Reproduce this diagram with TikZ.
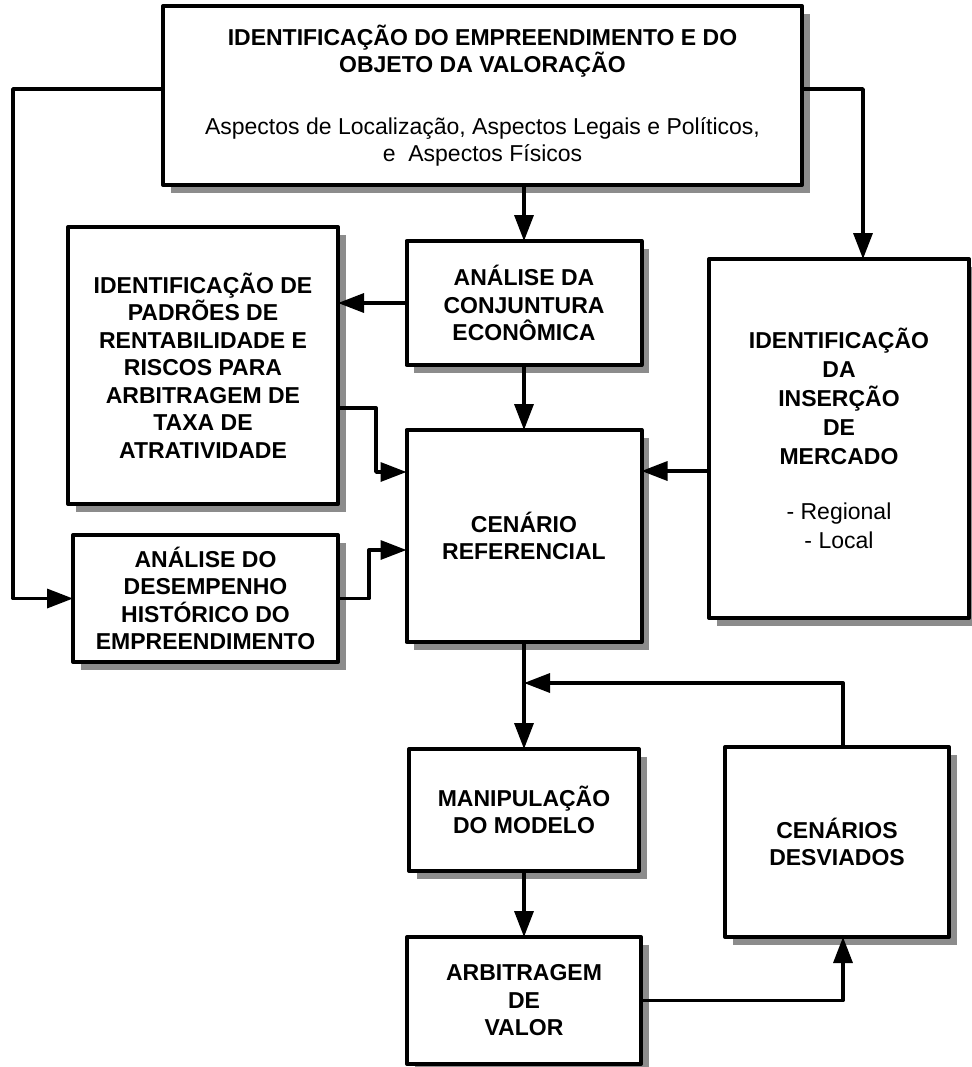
\documentclass[tikz,border=0pt]{standalone}
\usepackage{fontspec}
\setmainfont{Liberation Sans}
\usetikzlibrary{arrows.meta,shadows}
\begin{document}
\begin{tikzpicture}[x=0.5pt,y=-0.5pt]
% Styles (MODIFIABLES)
\tikzstyle{fleche}=[-{Triangle[length=13pt,width=9.5pt]},line width=1.7pt,line join=round]
\tikzstyle{boite}=[draw,fill=white,line width=2pt,line join=round,rectangle,align=center,
  inner sep=0pt,outer sep=0pt,font=\bfseries\fontsize{11.5}{13.75}\selectfont,
  drop shadow={shadow xshift=3.75pt,shadow yshift=-3.75pt,fill=black!45,opacity=1}]
% Dimensions (MODIFIABLES)
\def\LargeurCentre{117.5pt}
\def\Interligne{\\[17pt]}
% Cadre
\useasboundingbox (0,0) rectangle (972,1067);
% Noeuds
\node[boite,minimum width=319.5pt,minimum height=89.5pt] (objet) at (482.5,95.5)
  {IDENTIFICAÇÃO DO EMPREENDIMENTO E DO\\OBJETO DA VALORAÇÃO\Interligne
   \mdseries Aspectos de Localização, Aspectos Legais e Políticos,\\
   \mdseries e\ \ Aspectos Físicos};
\node[boite,minimum width=\LargeurCentre,minimum height=62pt] (conj) at (524,303)
  {ANÁLISE DA\\CONJUNTURA\\ECONÔMICA};
\node[boite,minimum width=135pt,minimum height=138.5pt] (padroes) at (203,365.5)
  {IDENTIFICAÇÃO DE\\PADRÕES DE\\RENTABILIDADE E\\RISCOS PARA\\ARBITRAGEM DE\\TAXA DE\\ATRATIVIDADE};
\node[boite,minimum width=\LargeurCentre,minimum height=106pt] (cenario) at (524,536)
  {CENÁRIO\\REFERENCIAL};
\node[boite,minimum width=130pt,minimum height=179.5pt] (insercao) at (839,438.5)
  {IDENTIFICAÇÃO\\[0.75pt]DA\\[0.75pt]INSERÇÃO\\[0.75pt]DE\\[0.75pt]MERCADO\\[14pt]
   \mdseries - Regional\\[0.75pt]\mdseries - Local};
\node[boite,minimum width=132.5pt,minimum height=63.5pt] (desemp) at (205.5,598.5)
  {ANÁLISE DO\\DESEMPENHO\\HISTÓRICO DO\\EMPREENDIMENTO};
\node[boite,minimum width=115pt,minimum height=61pt] (manip) at (524,810)
  {MANIPULAÇÃO\\DO MODELO};
\node[boite,minimum width=117pt,minimum height=63.5pt] (arbit) at (524,1000.5)
  {ARBITRAGEM\\DE\\VALOR};
\node[boite,minimum width=112pt,minimum height=95pt] (desv) at (837,842)
  {CENÁRIOS\\DESVIADOS};
% Points de passage
\coordinate (g) at (13,89);
\coordinate (d) at (863,89);
\coordinate (p1) at (376,408);
\coordinate (p2) at (376,472);
\coordinate (h) at (369,550);
\coordinate (m) at (675,471);
\coordinate (r) at (843,683);
\coordinate (b) at (843,1001);
% Arcs
\draw[fleche] (objet.south -| conj.north) -- (conj.north);
\draw[fleche] (objet.west |- g) -- (g) |- (desemp.west);
\draw[fleche] (objet.east |- d) -- (d) -- (d |- insercao.north);
\draw[fleche] (conj.west) -- (conj.west -| padroes.east);
\draw[fleche] (conj.south) -- (cenario.north);
\draw[fleche] (padroes.east |- p1) -- (p1) -- (p2) -- (p2 -| cenario.west);
\draw[fleche] (desemp.east) -| (h) -- (h -| cenario.west);
\draw[fleche] (insercao.west |- m) -- (m -| cenario.east);
\draw[fleche] (cenario.south) -- (manip.north);
\draw[fleche] (r |- desv.north) -- (r) -- (r -| manip.north);
\draw[fleche] (manip.south) -- (arbit.north);
\draw[fleche] (arbit.east) -| (b |- desv.south);
\end{tikzpicture}
\end{document}
